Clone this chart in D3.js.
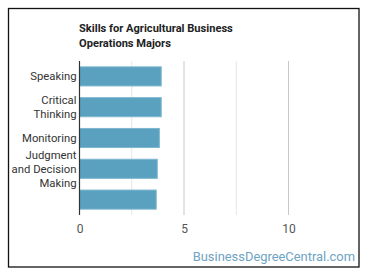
<!DOCTYPE html>
<html><head><meta charset="utf-8">
<script src="https://cdn.jsdelivr.net/npm/d3@7"></script>
<style>
html,body{margin:0;padding:0;background:#fff;}
svg{display:block;font-family:Roboto, "Noto Sans", sans-serif;}
</style></head>
<body><svg id="c" width="370" height="278"></svg>
<script>
const categories = [["Speaking"], ["Critical", "Thinking"], ["Monitoring"], ["Judgment", "and Decision", "Making"], [""]];
const values = [3.91, 3.91, 3.82, 3.72, 3.67];
const tickValues = [0, 5, 10];
const gridValues = [2.5, 5, 7.5, 10];
const titleLines = ["Skills for Agricultural Business", "Operations Majors"];
const watermark = "BusinessDegreeCentral.com";

(function () {
const svg = d3.select("#c");
svg.append("rect").attr("x", 8.5).attr("y", 8.5).attr("width", 350.5).attr("height", 258.5)
  .attr("fill", "#fff").attr("stroke", "#111").attr("stroke-width", 1.3);

const pl = 79.5, pr = 340.75, pt = 61, pb = 215;
const x = d3.scaleLinear().domain([0, 12.5]).range([pl, pr]);
const y = d3.scaleBand().domain(d3.range(categories.length)).range([pt, pb]).paddingInner(0.38).paddingOuter(0.19);

svg.append("g").selectAll("line").data(gridValues).join("line")
  .attr("x1", d => x(d)).attr("x2", d => x(d)).attr("y1", pt).attr("y2", pb)
  .attr("stroke", d => d % 5 === 0 ? "#c8c8c8" : "#e6e6e6").attr("stroke-width", 1);

svg.append("g").selectAll("rect").data(values).join("rect")
  .attr("x", x(0)).attr("y", (d, i) => y(i)).attr("width", d => x(d) - x(0)).attr("height", y.bandwidth())
  .attr("fill", "#5aa1bf").attr("stroke", "#7db6cf").attr("stroke-width", 1);

svg.append("line").attr("x1", pl).attr("x2", pl).attr("y1", pt).attr("y2", pb)
  .attr("stroke", "#333").attr("stroke-width", 1.2);

const xa = svg.append("g").attr("transform", `translate(0,${pb})`)
  .call(d3.axisBottom(x).tickValues(tickValues).tickSize(0).tickPadding(9).tickFormat(d3.format("d")));
xa.select(".domain").remove();
xa.selectAll("text").attr("font-size", 12).attr("fill", "#555").attr("font-family", "Roboto");

const lh = 14;
const yl = svg.append("g");
categories.forEach((lines, i) => {
  const cy = y(i) + y.bandwidth() / 2;
  const t = yl.append("text").attr("text-anchor", "end").attr("font-size", 11.3).attr("fill", "#333");
  lines.forEach((ln, j) => {
    t.append("tspan").attr("x", 76.5).attr("y", cy + (j - (lines.length - 1) / 2) * lh).attr("dy", "0.35em").text(ln);
  });
});

const tt = svg.append("text").attr("font-size", 11.1).attr("font-weight", "bold").attr("fill", "#222");
titleLines.forEach((ln, j) => tt.append("tspan").attr("x", 79).attr("y", 32 + j * 15).text(ln));

svg.append("text").attr("x", 355).attr("y", 260.5).attr("text-anchor", "end")
  .attr("font-size", 12.9).attr("fill", "#6ea3c2").text(watermark);
})();
</script></body></html>
